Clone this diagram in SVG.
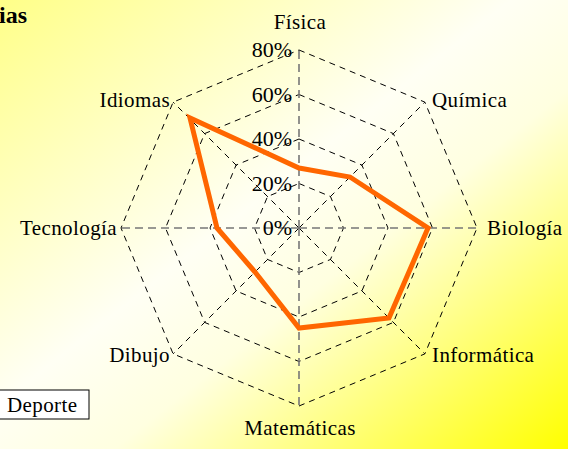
<svg xmlns="http://www.w3.org/2000/svg" width="568" height="449" viewBox="0 0 568 449">
<defs>
<linearGradient id="bg" x1="0" y1="0" x2="1" y2="1">
<stop offset="0" stop-color="#ffff88"/>
<stop offset="0.45" stop-color="#fffff4"/>
<stop offset="0.6" stop-color="#ffffe0"/>
<stop offset="1" stop-color="#ffff00"/>
</linearGradient>
<style>
text{font-family:'Liberation Serif','DejaVu Serif',serif}
.ring{fill:none;stroke:#000;stroke-width:1;stroke-dasharray:6 5}
.diag{fill:none;stroke:#000;stroke-width:1;stroke-dasharray:6 5}
.main{fill:none;stroke:#777;stroke-width:1.6;stroke-dasharray:8 5}
.lbl{font-size:21px;letter-spacing:0.4px;fill:#000}
.pct{font-size:22px;fill:#000;text-anchor:end}
.data{fill:none;stroke:#ff6600;stroke-width:5;stroke-linejoin:miter}
</style>
</defs>
<rect x="0" y="0" width="568" height="449" fill="url(#bg)"/>
<text x="-1" y="23" font-size="24" font-weight="bold">ias</text>
<g id="grid">
<polygon class="ring" points="299,50 424.87,102.13 477,228 424.87,353.87 299,406 173.13,353.87 121,228 173.13,102.13"/>
<polygon class="ring" points="299,94.5 393.4,133.6 432.5,228 393.4,322.4 299,361.5 204.6,322.4 165.5,228 204.6,133.6"/>
<polygon class="ring" points="299,139 361.93,165.07 388,228 361.93,290.93 299,317 236.07,290.93 210,228 236.07,165.07"/>
<polygon class="ring" points="299,183.5 330.47,196.53 343.5,228 330.47,259.47 299,272.5 267.53,259.47 254.5,228 267.53,196.53"/>
<line class="diag" x1="299" y1="228" x2="424.87" y2="102.13"/>
<line class="diag" x1="299" y1="228" x2="424.87" y2="353.87"/>
<line class="diag" x1="299" y1="228" x2="173.13" y2="353.87"/>
<line class="diag" x1="299" y1="228" x2="173.13" y2="102.13"/>
<line class="main" x1="299" y1="228" x2="299" y2="50"/>
<line class="main" x1="299" y1="228" x2="477" y2="228"/>
<line class="main" x1="299" y1="228" x2="299" y2="406"/>
<line class="main" x1="299" y1="228" x2="121" y2="228"/>
</g>
<g id="scale">
<text class="pct" x="292" y="57">80%</text>
<text class="pct" x="292" y="102">60%</text>
<text class="pct" x="292" y="146">40%</text>
<text class="pct" x="292" y="191">20%</text>
<text class="pct" x="292" y="235">0%</text>
</g>
<g id="axis-labels">
<text class="lbl" x="300" y="29" text-anchor="middle">Física</text>
<text class="lbl" x="432" y="107">Química</text>
<text class="lbl" x="487" y="235">Biología</text>
<text class="lbl" x="432" y="362">Informática</text>
<text class="lbl" x="300" y="435" text-anchor="middle">Matemáticas</text>
<text class="lbl" x="170" y="362" text-anchor="end">Dibujo</text>
<text class="lbl" x="117" y="235" text-anchor="end">Tecnología</text>
<text class="lbl" x="170" y="107" text-anchor="end">Idiomas</text>
</g>
<g id="series-deporte">
<polygon class="data" points="299,168 350,177 428,228 389,318 299,328 255,272 217,228 190,118"/>
</g>
<g id="legend">
<rect x="-1" y="390" width="90" height="29" fill="#fff" stroke="#000" stroke-width="1"/>
<text class="lbl" x="7" y="412">Deporte</text>
</g>
</svg>
